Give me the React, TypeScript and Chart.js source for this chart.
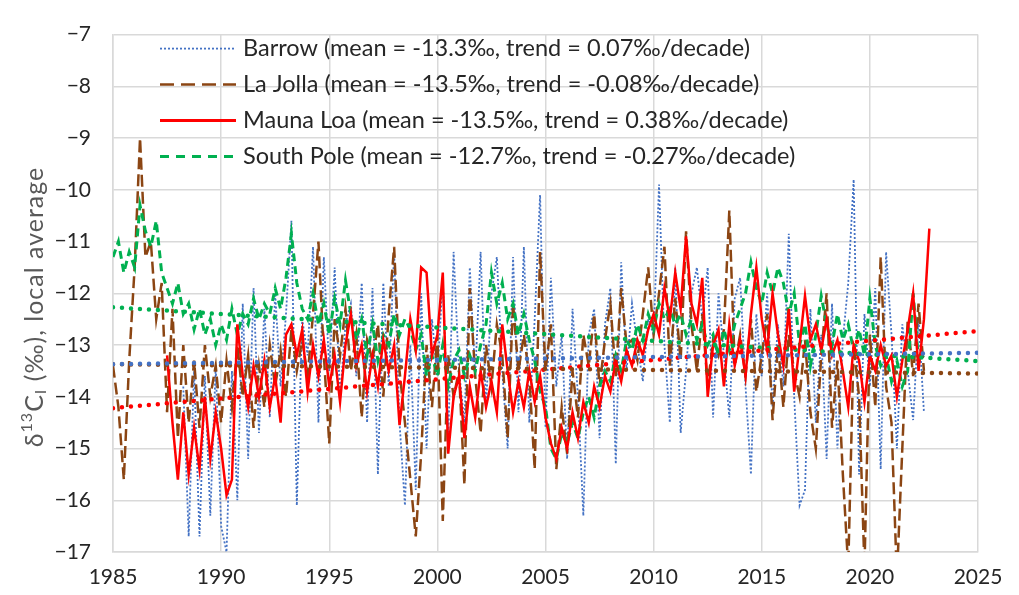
import React, { useEffect, useRef } from "react";
import Chart from "chart.js/auto";

// quarterly samples (per mil)
const step = 0.25;

const barrowStart = 1988.25;
const barrow = [
	-13.8, -16.7, -13.5,
	-16.7, -13.6, -16.3, -13.4,
	-16.5, -17.0, -13.5, -16.0,
	-12.2, -15.2, -11.9, -14.7,
	-12.3, -14.4, -12.0, -13.8,
	-12.4, -10.6, -16.1, -12.5,
	-13.2, -11.1, -14.5, -11.3,
	-13.5, -11.5, -14.0, -12.6,
	-12.2, -13.6, -11.8, -14.5,
	-11.9, -15.5, -11.8, -13.8,
	-11.2, -14.5, -16.1, -13.0,
	-15.8, -12.0, -15.0, -12.5,
	-13.6, -11.7, -14.8, -11.2,
	-13.5, -14.5, -11.5, -13.6,
	-11.2, -14.2, -12.0, -11.3,
	-13.5, -15.0, -11.3, -14.3,
	-11.1, -14.5, -12.5, -10.1,
	-14.6, -11.7, -13.8, -12.8,
	-15.2, -12.3, -14.0, -16.3,
	-12.8, -12.3, -14.8, -12.6,
	-11.9, -15.3, -11.4, -13.5,
	-12.2, -13.0, -13.7, -12.5,
	-12.8, -9.9, -13.0, -14.5,
	-11.5, -14.7, -13.5, -12.0,
	-11.5, -12.5, -11.5, -14.4,
	-12.0, -13.2, -14.4, -12.1,
	-11.7, -13.8, -15.5, -12.4,
	-13.6, -12.0, -14.2, -12.6,
	-13.8, -10.85, -14.0, -16.1,
	-15.8, -12.3, -14.5, -12.8,
	-15.2, -12.2, -15.0, -12.9,
	-11.8, -9.8, -15.5, -12.4,
	-13.8, -11.9, -15.4, -11.2,
	-12.8, -15.0, -12.6, -13.5,
	-14.45, -12.5, -14.3,
];

const laJollaStart = 1985;
const laJolla = [
	-13.4, -14.2, -15.6, -13.3,
	-11.5, -9.0, -11.3, -11.0,
	-12.5, -11.8, -14.3, -12.3,
	-14.8, -13.0, -14.5, -13.3,
	-14.6, -13.0, -14.0, -13.4,
	-14.5, -13.3, -14.2, -13.0,
	-14.0, -13.2, -14.6, -13.4,
	-14.2, -13.0, -13.8, -13.1,
	-14.0, -12.7, -13.5, -12.9,
	-13.6, -12.4, -11.0, -13.2,
	-14.9, -12.5, -13.2, -12.3,
	-13.5, -12.8, -14.4, -12.9,
	-13.3, -12.6, -14.0, -12.4,
	-11.1, -13.5, -14.5, -15.6,
	-16.7, -15.1, -13.0, -14.2,
	-12.8, -16.4, -13.2, -14.0,
	-13.5, -15.7, -11.9, -13.6,
	-14.7, -13.0, -13.8, -12.6,
	-13.2, -14.8, -12.2, -13.5,
	-12.8, -13.6, -15.4, -11.2,
	-13.5, -12.6, -15.4, -14.2,
	-15.1, -13.5, -14.4, -12.8,
	-13.4, -12.4, -13.8, -12.9,
	-12.2, -13.6, -11.9, -13.0,
	-12.9, -13.3, -12.4, -11.5,
	-12.8, -12.0, -11.1, -13.4,
	-12.1, -13.3, -10.8, -12.6,
	-13.5, -12.4, -13.8, -12.9,
	-13.2, -12.7, -10.4, -13.4,
	-12.8, -13.6, -12.5, -13.9,
	-13.2, -12.4, -14.45, -13.0,
	-14.2, -12.8, -13.5, -14.0,
	-12.9, -14.3, -15.0, -13.2,
	-12.0, -14.6, -13.3, -15.5,
	-17.3, -13.0, -14.0, -17.3,
	-12.8, -14.2, -11.3, -13.8,
	-14.5, -17.5, -15.0, -12.5,
	-13.6, -12.2, -13.5,
];

const maunaLoaStart = 1987.5;
const maunaLoa = [
	-13.2, -14.5,
	-15.6, -14.3, -15.5, -14.6,
	-15.4, -14.0, -15.2, -14.3,
	-15.0, -15.9, -15.6, -12.6,
	-13.6, -14.2, -13.4, -14.0,
	-13.3, -14.2, -13.6, -14.5,
	-12.8, -12.6, -13.2, -12.7,
	-13.9, -13.0, -13.6, -12.9,
	-13.8, -13.2, -14.1, -13.0,
	-12.4, -13.4, -13.0, -13.9,
	-13.2, -13.8, -12.9, -13.5,
	-13.0, -14.55, -13.6, -12.5,
	-13.1, -11.5, -11.6, -13.2,
	-12.8, -11.6, -15.1, -14.0,
	-13.6, -14.8, -13.8, -14.4,
	-13.5, -14.2, -13.7, -14.3,
	-12.6, -13.5, -14.3, -13.7,
	-14.2, -13.5, -14.1, -13.6,
	-14.4, -14.9, -15.2, -14.6,
	-15.0, -14.3, -14.8, -14.1,
	-14.5, -13.8, -14.2, -13.6,
	-13.9, -13.3, -13.7, -13.1,
	-13.4, -12.9, -13.2, -12.7,
	-12.4, -12.8, -11.9, -12.5,
	-11.6, -12.3, -10.9, -12.2,
	-12.6, -11.7, -14.0, -13.0,
	-12.7, -13.8, -12.6, -13.4,
	-12.9, -13.6, -12.4, -11.5,
	-12.5, -13.1, -12.0, -12.8,
	-13.4, -12.3, -13.9, -13.0,
	-12.05, -12.9, -12.6, -13.1,
	-12.5, -13.2, -12.9, -13.5,
	-14.2, -13.0, -13.3, -14.1,
	-13.2, -13.5, -13.0, -13.4,
	-13.2, -14.0, -13.3, -12.7,
	-12.0, -13.5, -12.5, -10.75,
];

const southPoleStart = 1985;
const southPole = [
	-11.3, -11.0, -11.6, -11.2,
	-11.5, -10.3, -10.8, -11.1,
	-10.6, -11.6, -11.9, -12.2,
	-11.8, -12.4, -12.2, -12.7,
	-12.3, -12.8, -12.5, -13.0,
	-12.6, -12.9, -12.3, -12.8,
	-12.4, -12.6, -12.1, -12.5,
	-12.2, -12.4, -11.9, -12.3,
	-11.7, -10.85, -11.8, -12.3,
	-12.5, -12.0, -12.6, -12.2,
	-12.8, -12.1, -12.6, -11.75,
	-12.4, -12.9, -12.5, -13.2,
	-12.6, -13.3, -12.8, -13.0,
	-12.4, -12.8, -12.5, -12.7,
	-13.1, -12.8, -13.6, -13.2,
	-13.6, -13.0, -13.8, -13.3,
	-13.1, -13.6, -13.2, -13.5,
	-13.0, -12.6, -11.6, -12.2,
	-11.8, -12.5, -12.2, -12.8,
	-12.4, -12.9, -13.3, -13.9,
	-14.2, -15.0, -15.2, -14.7,
	-14.9, -14.5, -14.8, -14.3,
	-14.0, -14.4, -13.8, -13.5,
	-13.7, -13.2, -13.5, -12.9,
	-13.1, -12.6, -12.9, -12.4,
	-12.7, -12.2, -12.5, -12.3,
	-12.6, -12.4, -12.8, -12.5,
	-12.9, -12.6, -13.0, -12.8,
	-13.2, -12.7, -13.1, -12.6,
	-12.3, -12.0, -11.4, -11.9,
	-12.2, -11.6, -12.0, -11.5,
	-11.8, -12.4, -12.0, -13.0,
	-12.6, -13.4, -12.8, -12.05,
	-12.6, -13.0, -12.4, -12.9,
	-12.6, -13.1, -12.7, -13.2,
	-12.1, -13.0, -13.4, -13.2,
	-13.7, -13.3, -13.8, -13.5,
	-12.0, -13.3, -13.2,
];

// linear trend lines, end points
const trendYears = [1985, 2025];
const barrowTrend = [-13.37, -13.15];
const laJollaTrend = [-13.37, -13.55];
const maunaLoaTrend = [-14.22, -12.73];
const southPoleTrend = [-12.27, -13.31];

const legendLabels = [
	"Barrow (mean = -13.3‰, trend = 0.07‰/decade)",
	"La Jolla (mean = -13.5‰, trend = -0.08‰/decade)",
	"Mauna Loa (mean = -13.5‰, trend = 0.38‰/decade)",
	"South Pole (mean = -12.7‰, trend = -0.27‰/decade)",
];

const blue = "#4472C4";
const brown = "#8B4513";
const red = "#FF0000";
const green = "#00B050";

const toPoints = (start: number, values: number[]) =>
	values.map((v, i) => ({ x: start + i * step, y: v }));

const trendPoints = (values: number[]) =>
	values.map((v, i) => ({ x: trendYears[i], y: v }));

const FONT = "Lato, 'Open Sans', sans-serif";

const legendStyles = [
	{ color: blue, width: 1.8, dash: [2, 2] },
	{ color: brown, width: 2.5, dash: [14, 7] },
	{ color: red, width: 3, dash: [] as number[] },
	{ color: green, width: 3, dash: [9, 7] },
];

const overlayPlugin = {
	id: "overlay",
	afterDraw(chart: any) {
		const ctx = chart.ctx as CanvasRenderingContext2D;
		const area = chart.chartArea;
		ctx.save();
		// legend inside plot
		legendLabels.forEach((label, i) => {
			const y = area.top + 14 + i * 36;
			const s = legendStyles[i];
			ctx.beginPath();
			ctx.strokeStyle = s.color;
			ctx.lineWidth = s.width;
			ctx.setLineDash(s.dash);
			ctx.moveTo(area.left + 47, y);
			ctx.lineTo(area.left + 123, y);
			ctx.stroke();
			ctx.setLineDash([]);
			ctx.fillStyle = "#262626";
			ctx.font = `23.5px ${FONT}`;
			ctx.textBaseline = "middle";
			ctx.textAlign = "left";
			ctx.fillText(label, area.left + 130, y);
		});
		// y axis title with super/subscript
		const parts = [
			{ t: "δ", size: 25, dy: 0 },
			{ t: "13", size: 16, dy: -8 },
			{ t: "C", size: 25, dy: 0 },
			{ t: "I", size: 16, dy: 6 },
			{ t: " (‰), local average", size: 25, dy: 0 },
		];
		(ctx as any).letterSpacing = "1px";
		let total = 0;
		parts.forEach((p) => {
			ctx.font = `${p.size}px ${FONT}`;
			total += ctx.measureText(p.t).width;
		});
		ctx.translate(35, 307);
		ctx.rotate(-Math.PI / 2);
		ctx.fillStyle = "#595959";
		ctx.textBaseline = "middle";
		let x = -total / 2;
		parts.forEach((p) => {
			ctx.font = `${p.size}px ${FONT}`;
			ctx.fillText(p.t, x, p.dy);
			x += ctx.measureText(p.t).width;
		});
		ctx.restore();
	},
};

const App = () => {
	const chartRef = useRef<HTMLCanvasElement>(null);
	const chartInstance = useRef<Chart | null>(null);

	useEffect(() => {
		document.body.style.margin = "0";
		if (!chartRef.current) return;
		const ctx = chartRef.current.getContext("2d");
		if (!ctx) return;

		if (chartInstance.current) chartInstance.current.destroy();

		const trendStyle = {
			borderWidth: 4.5,
			borderDash: [0, 9],
			borderCapStyle: "round" as const,
			pointRadius: 0,
			order: 0,
		};

		chartInstance.current = new Chart(ctx, {
			type: "line",
			data: {
				datasets: [
					{
						label: "Barrow",
						data: toPoints(barrowStart, barrow),
						borderColor: blue,
						borderWidth: 1.8,
						borderDash: [2, 2],
						pointRadius: 0,
						order: 4,
					},
					{
						label: "La Jolla",
						data: toPoints(laJollaStart, laJolla),
						borderColor: brown,
						borderWidth: 2.5,
						borderDash: [12, 5],
						pointRadius: 0,
						order: 3,
					},
					{
						label: "South Pole",
						data: toPoints(southPoleStart, southPole),
						borderColor: green,
						borderWidth: 3,
						borderDash: [8, 5],
						pointRadius: 0,
						order: 2,
					},
					{
						label: "Mauna Loa",
						data: toPoints(maunaLoaStart, maunaLoa),
						borderColor: red,
						borderWidth: 2.5,
						pointRadius: 0,
						order: 1,
					},
					{ label: "Barrow trend", data: trendPoints(barrowTrend), borderColor: blue, ...trendStyle },
					{ label: "La Jolla trend", data: trendPoints(laJollaTrend), borderColor: brown, ...trendStyle },
					{ label: "Mauna Loa trend", data: trendPoints(maunaLoaTrend), borderColor: red, ...trendStyle },
					{ label: "South Pole trend", data: trendPoints(southPoleTrend), borderColor: green, ...trendStyle },
				],
			},
			options: {
				animation: false,
				responsive: true,
				maintainAspectRatio: false,
				layout: { padding: { top: 23, right: 41, left: 0, bottom: 0 } },
				elements: { line: { tension: 0 } },
				plugins: {
					legend: { display: false },
					tooltip: { enabled: false },
				},
				scales: {
					x: {
						type: "linear",
						min: 1985,
						max: 2025,
						ticks: {
							stepSize: 5,
							color: "#262626",
							font: { family: FONT, size: 21 },
							padding: 13,
							maxRotation: 0,
							callback: (v: any) => String(v),
						},
						grid: { color: "#D9D9D9", lineWidth: 1.5, drawTicks: false },
						border: { color: "#D9D9D9", width: 1.5 },
						afterFit: (scale: any) => {
							scale.height = 43;
						},
					},
					y: {
						min: -17,
						max: -7,
						ticks: {
							stepSize: 1,
							color: "#262626",
							font: { family: FONT, size: 21 },
							padding: 22,
							callback: (v: any) => String(v).replace("-", "\u2212"),
						},
						grid: { color: "#D9D9D9", lineWidth: 1.5, drawTicks: false },
						border: { color: "#D9D9D9", width: 1.5 },
						afterFit: (scale: any) => {
							scale.width = 113;
						},
					},
				},
			},
			plugins: [overlayPlugin],
		});

		return () => {
			if (chartInstance.current) {
				chartInstance.current.destroy();
				chartInstance.current = null;
			}
		};
	}, []);

	return (
		<div style={{ width: 1019, height: 595, position: "relative", background: "#fff" }}>
			<canvas ref={chartRef} />
		</div>
	);
};

export default App;
